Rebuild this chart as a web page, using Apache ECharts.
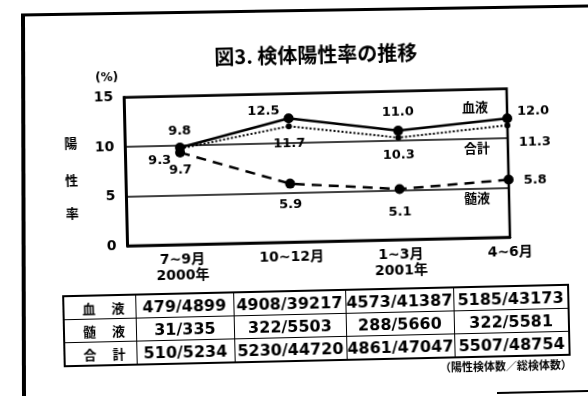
<!DOCTYPE html>
<html>
<head>
<meta charset="utf-8">
<script src="https://cdn.jsdelivr.net/npm/echarts@6/dist/echarts.min.js"></script>
<style>
  html, body { margin: 0; padding: 0; background: #fff; overflow: hidden; }
  #frame { position: absolute; left: 0; top: 0; }
  #page {
    position: absolute; left: 0; top: 0; width: 588px; height: 396px;
    transform: rotate(-1.3deg); transform-origin: 294px 198px;
  }
  #chart { position: absolute; left: 0; top: 0; width: 588px; height: 396px; }
  #counts {
    position: absolute; left: 60px; top: 290px; width: 505px; height: 72px;
    border-collapse: collapse; table-layout: fixed; border: 2px solid #000;
    font-family: "DejaVu Sans", "Noto Sans CJK JP", sans-serif; font-weight: bold;
    font-size: 16px; color: #000;
  }
  #counts td { border: 1.5px solid #000; height: 22px; padding: 0; text-align: center; white-space: nowrap; }
  #counts td.head {
    text-align: left; padding-left: 18px; letter-spacing: 16px;
    font-family: "Noto Sans CJK JP", sans-serif; font-size: 13px;
  }
  #note {
    position: absolute; right: 20px; top: 362px;
    font-family: "Noto Sans CJK JP", sans-serif; font-weight: bold; font-size: 11px; color: #000;
  }
</style>
</head>
<body>
<svg id="frame" width="588" height="396">
  <line x1="21" y1="15" x2="588" y2="6" stroke="#000" stroke-width="3"/>
  <line x1="23" y1="14" x2="24" y2="396" stroke="#000" stroke-width="4"/>
  <line x1="497" y1="393" x2="588" y2="391" stroke="#000" stroke-width="2"/>
</svg>
<div id="page">
  <div id="chart"></div>
  <table id="counts">
    <colgroup>
      <col style="width:72px"><col style="width:98px"><col style="width:112px"><col style="width:108px"><col style="width:115px">
    </colgroup>
    <tbody id="countsBody"></tbody>
  </table>
  <div id="note">（陽性検体数／総検体数）</div>
</div>
<script>
// 期間
var periods = ['7~9月\n2000年', '10~12月', '1~3月\n2001年', '4~6月'];
// 陽性率 (%)
var bloodRate = [9.8, 12.5, 11.0, 12.0];
var totalRate = [9.7, 11.7, 10.3, 11.3];
var csfRate = [9.3, 5.9, 5.1, 5.8];
// 陽性検体数／総検体数
var rowNames = ['血液', '髄液', '合計'];
var bloodCounts = ['479/4899', '4908/39217', '4573/41387', '5185/43173'];
var csfCounts = ['31/335', '322/5503', '288/5660', '322/5581'];
var totalCounts = ['510/5234', '5230/44720', '4861/47047', '5507/48754'];

// table
var rows = [bloodCounts, csfCounts, totalCounts];
var html = '';
rows.forEach(function (r, i) {
  html += '<tr><td class="head">' + rowNames[i] + '</td>';
  r.forEach(function (c) { html += '<td>' + c + '</td>'; });
  html += '</tr>';
});
document.getElementById('countsBody').innerHTML = html;

// ラベル位置
var bloodLabel = [
  { position: 'top', distance: 5 },
  { position: 'left', distance: 4, offset: [0, -8] },
  { position: 'top', distance: 7 },
  { position: 'right', distance: 5, offset: [0, -7] }
];
var totalLabel = [
  { position: 'bottom', distance: 12 },
  { position: 'bottom', distance: 8 },
  { position: 'bottom', distance: 8 },
  { position: 'right', distance: 6, offset: [2, 17] }
];
var csfLabel = [
  { position: 'left', distance: 4, offset: [0, 8] },
  { position: 'bottom', distance: 10 },
  { position: 'bottom', distance: 12 },
  { position: 'right', distance: 8, offset: [2, 1] }
];

function pts(vals, labels) {
  return vals.map(function (v, i) {
    return { value: [i, v], label: labels[i] };
  });
}

var numFont = '"DejaVu Sans", "Noto Sans CJK JP", sans-serif';
var cjkFont = '"Noto Sans CJK JP", sans-serif';

var chart = echarts.init(document.getElementById('chart'));
var option = {
  animation: false,
  backgroundColor: 'transparent',
  title: {
    text: '図3. 検体陽性率の推移',
    left: 314, top: 40, textAlign: 'center',
    textStyle: { fontFamily: cjkFont, fontWeight: 'bold', fontSize: 20, color: '#000' }
  },
  grid: {
    left: 126.5, right: 79, top: 93.5, bottom: 154,
    show: true, borderColor: '#000', borderWidth: 2.5
  },
  xAxis: {
    type: 'value', min: -0.5, max: 3, interval: 0.5,
    axisLine: { show: true, onZero: false, lineStyle: { color: '#000', width: 2.5 } },
    axisTick: { show: false },
    splitLine: { show: false },
    axisLabel: {
      margin: 7, color: '#000', fontFamily: numFont, fontWeight: 'bold', fontSize: 14, lineHeight: 16,
      showMinLabel: true, showMaxLabel: true, hideOverlap: false,
      formatter: function (v) { return Number.isInteger(v) ? periods[v] : ''; }
    }
  },
  yAxis: {
    type: 'value', min: 0, max: 15, interval: 5,
    axisLine: { show: true, onZero: false, lineStyle: { color: '#000', width: 3 } },
    axisTick: { show: false },
    splitLine: { show: true, lineStyle: { color: '#000', width: 1.5 } },
    axisLabel: { margin: 11, color: '#000', fontFamily: numFont, fontWeight: 'bold', fontSize: 14 }
  },
  graphic: [
    { type: 'text', left: 98, top: 68, style: { text: '(%)', font: 'bold 12px ' + numFont, fill: '#000' } },
    { type: 'text', x: 72, y: 138, style: { text: '陽', font: 'bold 13px ' + cjkFont, fill: '#000', align: 'center', verticalAlign: 'middle' } },
    { type: 'text', x: 72, y: 175, style: { text: '性', font: 'bold 13px ' + cjkFont, fill: '#000', align: 'center', verticalAlign: 'middle' } },
    { type: 'text', x: 72, y: 208, style: { text: '率', font: 'bold 13px ' + cjkFont, fill: '#000', align: 'center', verticalAlign: 'middle' } },
    { type: 'text', x: 477, y: 111, style: { text: '血液', font: 'bold 13px ' + cjkFont, fill: '#000', align: 'center', verticalAlign: 'middle' } },
    { type: 'text', x: 478, y: 152, style: { text: '合計', font: 'bold 13px ' + cjkFont, fill: '#000', align: 'center', verticalAlign: 'middle' } },
    { type: 'text', x: 477, y: 202, style: { text: '髄液', font: 'bold 13px ' + cjkFont, fill: '#000', align: 'center', verticalAlign: 'middle' } }
  ],
  series: [
    {
      name: '血液', type: 'line', data: pts(bloodRate, bloodLabel),
      symbol: 'circle', symbolSize: 10,
      lineStyle: { color: '#000', width: 2.5, type: 'solid' },
      itemStyle: { color: '#000' },
      label: {
        show: true, color: '#000', fontFamily: numFont, fontWeight: 'bold', fontSize: 13,
        formatter: function (p) { return p.value[1].toFixed(1); }
      },
      z: 3
    },
    {
      name: '合計', type: 'line', data: pts(totalRate, totalLabel),
      symbol: 'circle', symbolSize: 6,
      lineStyle: { color: '#000', width: 2, type: [2, 2] },
      itemStyle: { color: '#000' },
      label: {
        show: true, color: '#000', fontFamily: numFont, fontWeight: 'bold', fontSize: 13,
        formatter: function (p) { return p.value[1].toFixed(1); }
      },
      z: 2
    },
    {
      name: '髄液', type: 'line', data: pts(csfRate, csfLabel),
      symbol: 'circle', symbolSize: 10,
      lineStyle: { color: '#000', width: 2.5, type: [10, 7] },
      itemStyle: { color: '#000' },
      label: {
        show: true, color: '#000', fontFamily: numFont, fontWeight: 'bold', fontSize: 13,
        formatter: function (p) { return p.value[1].toFixed(1); }
      },
      z: 3
    }
  ]
};
chart.setOption(option);
</script>
</body>
</html>
